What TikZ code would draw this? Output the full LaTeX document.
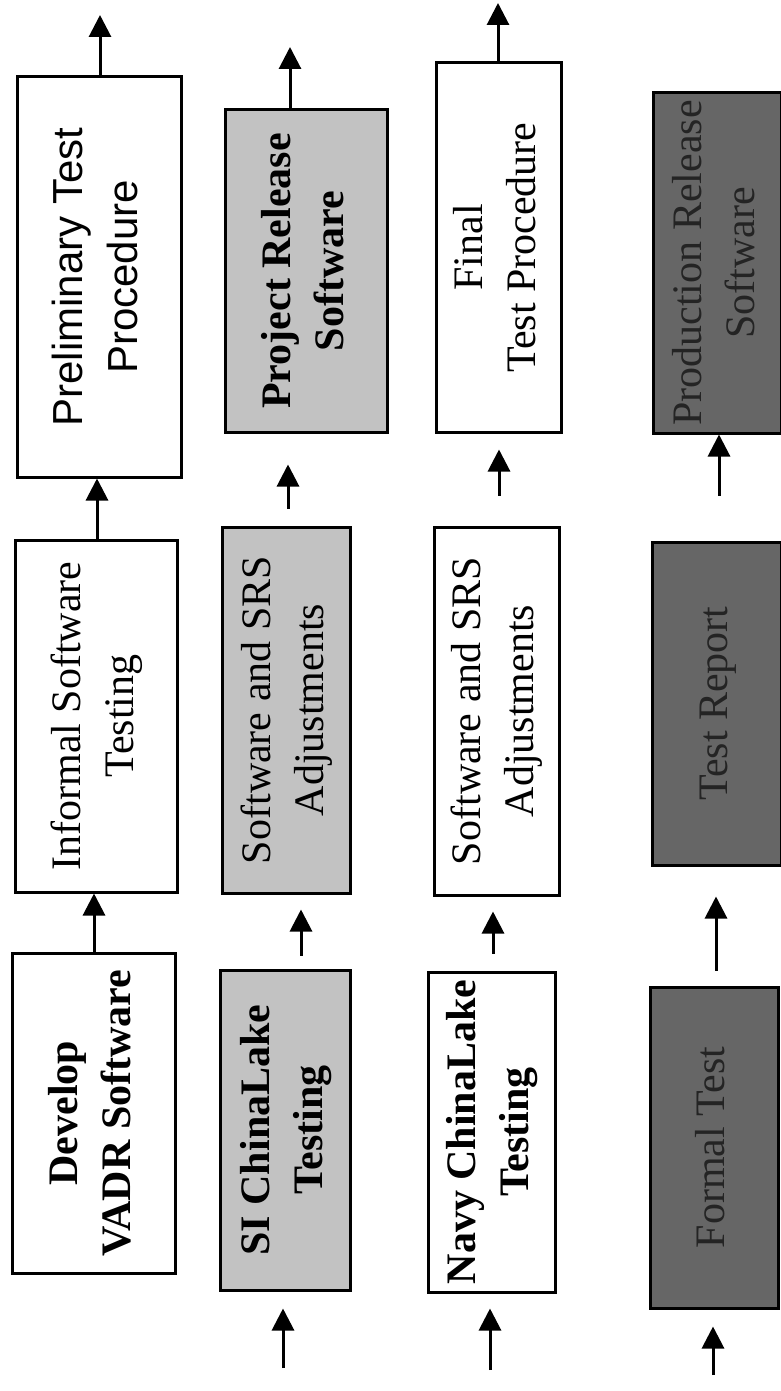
\documentclass[tikz,border=0pt]{standalone}
\usepackage{fontspec}
\setmainfont{Liberation Serif}
\newfontfamily\arialfont{Liberation Sans}
\usepackage{graphicx}
\usetikzlibrary{arrows.meta}
\definecolor{lightshade}{gray}{0.76}
\definecolor{darkshade}{gray}{0.40}
\definecolor{darktext}{gray}{0.14}
\tikzstyle{block} = [rectangle, draw=black, line width=3pt, fill=white, inner sep=0pt, text centered, font=\fontsize{42}{53}\selectfont]
\tikzstyle{lightblock} = [block, fill=lightshade]
\tikzstyle{darkblock} = [block, fill=darkshade, text=darktext]
\tikzstyle{arrow1} = [line width=3pt, -{Triangle[width=22pt, length=22pt]}]
\newcommand{\boxtext}[1]{\rotatebox{90}{\begin{tabular}{@{}c@{}}#1\end{tabular}}}

\begin{document}
\begin{tikzpicture}[x=1pt, y=-1pt]

    \useasboundingbox (0, 0) rectangle (780, 1391);

    \node (prelim) [block, minimum width=164pt, minimum height=400pt, font=\arialfont\fontsize{42}{55}\selectfont] at (99, 277) {\boxtext{Preliminary Test\\Procedure}};
    \node (informal) [block, minimum width=162pt, minimum height=352pt] at (96, 716) {\boxtext{Informal Software\\Testing}};
    \node (develop) [block, minimum width=163pt, minimum height=320pt] at (93.5, 1113) {\boxtext{\bfseries Develop\\\bfseries VADR Software}};

    \node (projrel) [lightblock, minimum width=162pt, minimum height=322pt] at (306, 271) {\boxtext{\bfseries Project Release\\\bfseries Software}};
    \node (swsrs1) [lightblock, minimum width=128pt, minimum height=366pt] at (286, 710) {\boxtext{Software and SRS\\Adjustments}};
    \node (silake) [lightblock, minimum width=130pt, minimum height=320pt] at (285, 1130) {\boxtext{\bfseries SI ChinaLake\\\bfseries Testing}};

    \node (final) [block, minimum width=125pt, minimum height=369pt] at (498.5, 247.5) {\boxtext{Final\\Test Procedure}};
    \node (swsrs2) [block, minimum width=125pt, minimum height=368pt] at (496.5, 711) {\boxtext{Software and SRS\\Adjustments}};
    \node (navylake) [block, minimum width=127pt, minimum height=320pt] at (491.5, 1132) {\boxtext{\bfseries Navy ChinaLake\\\bfseries Testing}};

    \node (prodrel) [darkblock, minimum width=128pt, minimum height=340pt] at (717, 263) {\boxtext{Production Release\\Software}};
    \node (report) [darkblock, minimum width=129pt, minimum height=323pt] at (716.5, 703.5) {\boxtext{Test Report}};
    \node (formal) [darkblock, minimum width=128pt, minimum height=321pt] at (714, 1147.5) {\boxtext{Formal Test}};

    \coordinate (out1) at (100, 15);
    \coordinate (out2) at (290, 47);
    \coordinate (out3) at (498, 3);
    \coordinate (in2) at (283, 1368);
    \coordinate (in3) at (490, 1370);
    \coordinate (in4) at (713, 1375);

    \draw [arrow1] ([xshift=1pt]prelim.north) -- (out1);
    \draw [arrow1] ([xshift=1pt]informal.north) -- ([xshift=-2pt]prelim.south);
    \draw [arrow1] ([xshift=0.5pt]develop.north) -- ([xshift=-2pt]informal.south);

    \draw [arrow1] ([xshift=-16pt]projrel.north) -- (out2);
    \draw [arrow1, shorten <=17pt, shorten >=31pt] ([xshift=2pt]swsrs1.north) -- ([xshift=-18pt]projrel.south);
    \draw [arrow1, shorten <=13pt, shorten >=15pt] ([xshift=16pt]silake.north) -- ([xshift=15pt]swsrs1.south);
    \draw [arrow1, shorten >=17pt] (in2) -- ([xshift=-2pt]silake.south);

    \draw [arrow1] ([xshift=-0.5pt]final.north) -- (out3);
    \draw [arrow1, shorten <=30pt, shorten >=16pt] ([xshift=2.5pt]swsrs2.north) -- ([xshift=0.5pt]final.south);
    \draw [arrow1, shorten <=17pt, shorten >=15pt] ([xshift=1.5pt]navylake.north) -- ([xshift=-3.5pt]swsrs2.south);
    \draw [arrow1, shorten >=15pt] (in3) -- ([xshift=-1.5pt]navylake.south);

    \draw [arrow1, shorten <=45pt] ([xshift=2.5pt]report.north) -- ([xshift=2pt]prodrel.south);
    \draw [arrow1, shorten <=15pt, shorten >=30pt] ([xshift=2pt]formal.north) -- ([xshift=-0.5pt]report.south);
    \draw [arrow1, shorten >=17pt] (in4) -- ([xshift=-1pt]formal.south);

\end{tikzpicture}
\end{document}
